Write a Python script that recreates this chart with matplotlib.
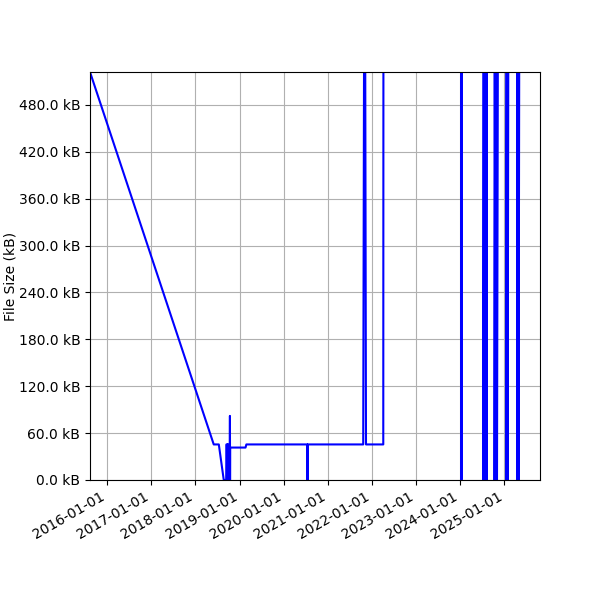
import matplotlib
matplotlib.use("Agg")
import numpy as np
import pandas as pd
import matplotlib.pyplot as plt
import matplotlib.dates as mdates
from matplotlib.ticker import FuncFormatter, MultipleLocator

# historial de tamano del archivo (kB)
fechas = [
    "2015-08-12", "2018-06-01", "2018-07-13", "2018-08-23", "2018-09-12",
    "2018-09-14", "2018-09-18", "2018-09-20", "2018-09-23", "2018-09-26",
    "2018-09-29", "2018-10-02", "2018-10-05", "2018-10-12", "2018-10-13",
    "2018-10-14", "2018-10-15", "2019-02-19", "2019-02-26", "2020-07-14",
    "2020-07-15", "2020-07-17", "2020-07-18", "2021-10-20", "2021-11-01",
    "2021-11-12", "2022-04-04", "2022-04-06", "2024-01-09", "2024-01-10",
    "2024-01-12", "2024-01-13", "2024-07-10", "2024-07-11", "2024-07-18",
    "2024-07-19", "2024-07-26", "2024-07-27", "2024-08-04", "2024-08-05",
    "2024-08-12", "2024-08-13", "2024-10-10", "2024-10-11", "2024-10-20",
    "2024-10-21", "2024-10-30", "2024-10-31", "2024-11-12", "2024-11-13",
    "2025-01-15", "2025-01-16", "2025-01-26", "2025-01-27", "2025-02-05",
    "2025-02-06", "2025-04-15", "2025-04-16", "2025-04-26", "2025-04-27",
    "2025-05-07", "2025-05-08", "2025-10-22",
]
tamanos = [
    522.0, 45.5, 45.5, 0.0, 0.0,
    45.5, 45.5, 0.0, 45.5, 0.0,
    45.5, 0.0, 41.5, 41.5, 82.0,
    0.0, 41.5, 41.5, 45.5, 45.5,
    0.0, 0.0, 45.5, 45.5, 900.0,
    45.5, 45.5, 900.0, 900.0, 0.0,
    0.0, 900.0, 900.0, 0.0, 900.0,
    0.0, 900.0, 0.0, 900.0, 0.0,
    900.0, 900.0, 900.0, 0.0, 900.0,
    0.0, 900.0, 0.0, 900.0, 900.0,
    900.0, 0.0, 900.0, 0.0, 900.0,
    900.0, 900.0, 0.0, 900.0, 0.0,
    900.0, 900.0, 900.0,
]

x = pd.to_datetime(fechas)
y = np.array(tamanos)

fig, ax = plt.subplots(figsize=(6, 6), dpi=100)
ax.plot(x, y, color="blue", linewidth=1.5)

ax.set_xlim(pd.Timestamp("2015-08-12"), pd.Timestamp("2025-10-22"))
ax.set_ylim(0, 522)
ax.yaxis.set_major_locator(MultipleLocator(60))
ax.yaxis.set_major_formatter(FuncFormatter(lambda v, p: f"{v:.1f} kB"))
ax.xaxis.set_major_locator(mdates.YearLocator())
ax.xaxis.set_major_formatter(mdates.DateFormatter("%Y-%m-%d"))
ax.set_ylabel("File Size (kB)", labelpad=1)
ax.grid(True)

fig.autofmt_xdate()
plt.subplots_adjust(left=0.15, right=0.9, top=0.88, bottom=0.2)
plt.savefig("out.png")
